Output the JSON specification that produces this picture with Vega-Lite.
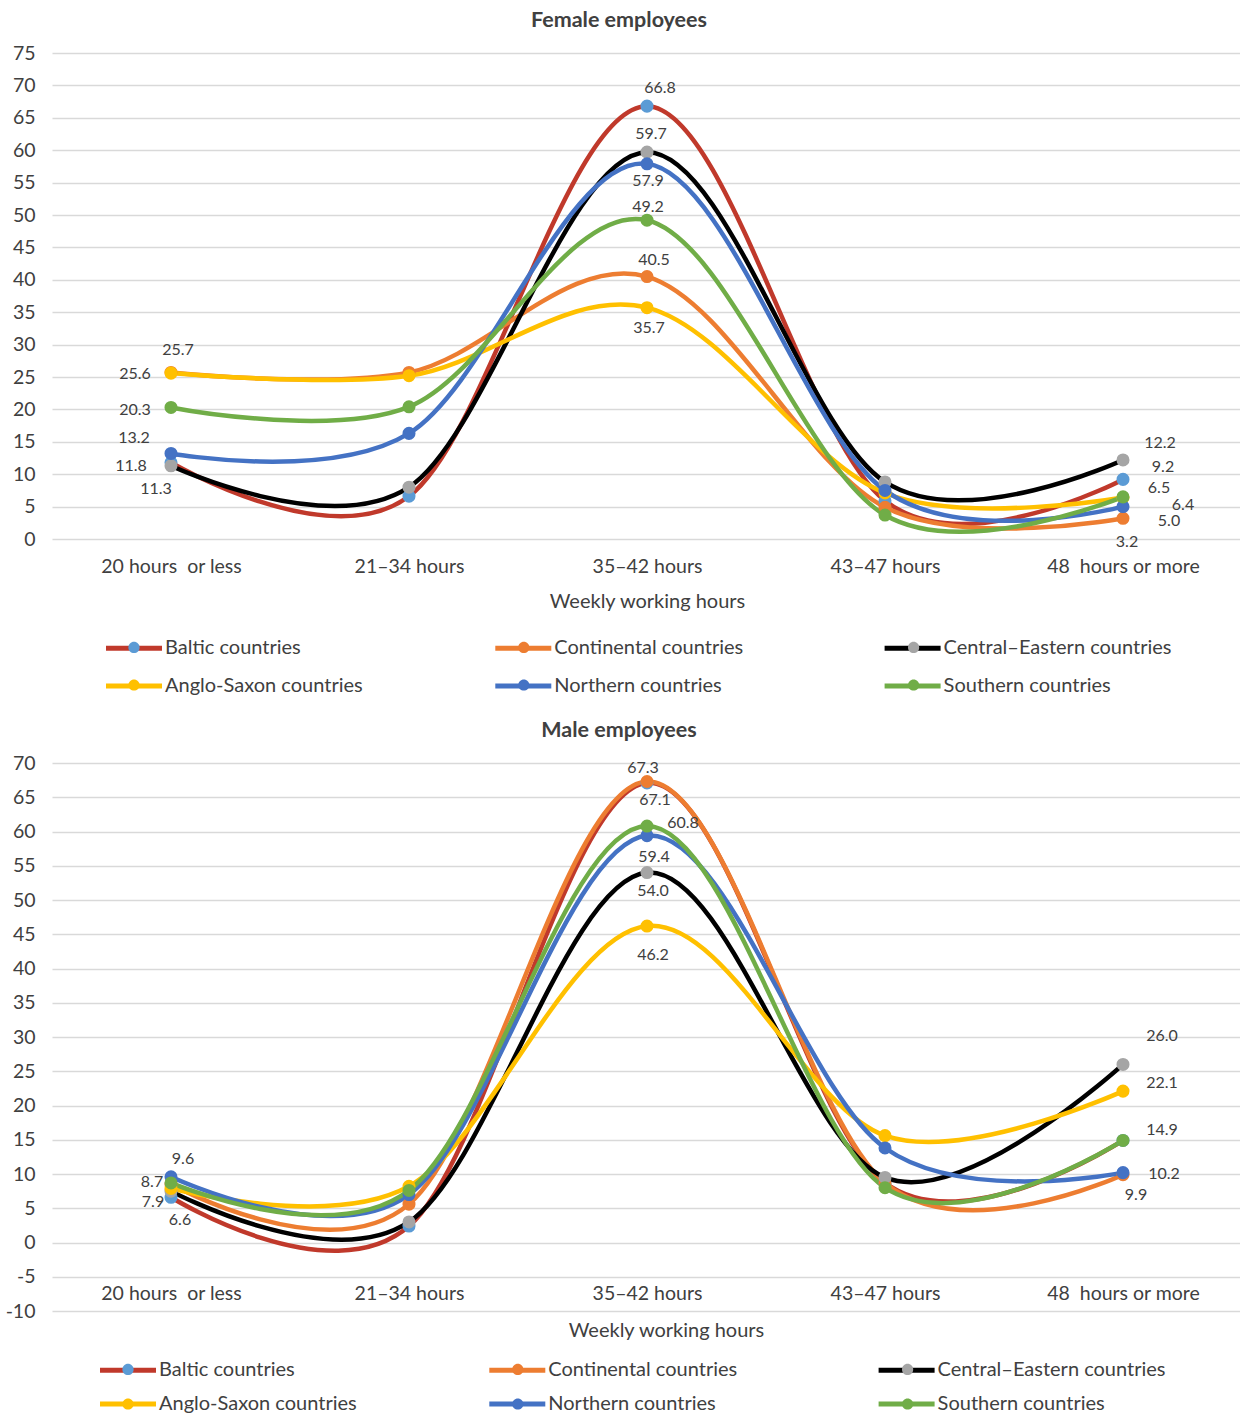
{
  "$schema": "https://vega.github.io/schema/vega-lite/v6.json",
  "background": "white",
  "padding": {"left": 5, "top": 10, "right": 0, "bottom": 0},
  "bounds": "flush",
  "spacing": 224,
  "config": {
    "font": "Lato",
    "view": {"stroke": null},
    "axis": {"labelColor": "#404040", "titleColor": "#404040", "labelFont": "Lato", "titleFont": "Lato"},
    "title": {"font": "Lato", "color": "#404040"},
    "text": {"font": "Lato", "fontSize": 16, "color": "#404040", "align": "center", "baseline": "middle"}
  },
  "datasets": {
    "female": [
      {"series": "Baltic countries", "hours": "20 hours\u00a0 or less", "pct": 11.8},
      {"series": "Baltic countries", "hours": "21–34 hours", "pct": 6.6},
      {"series": "Baltic countries", "hours": "35–42 hours", "pct": 66.8},
      {"series": "Baltic countries", "hours": "43–47 hours", "pct": 5.9},
      {"series": "Baltic countries", "hours": "48\u00a0 hours or more", "pct": 9.2},
      {"series": "Continental countries", "hours": "20 hours\u00a0 or less", "pct": 25.7},
      {"series": "Continental countries", "hours": "21–34 hours", "pct": 25.7},
      {"series": "Continental countries", "hours": "35–42 hours", "pct": 40.5},
      {"series": "Continental countries", "hours": "43–47 hours", "pct": 4.9},
      {"series": "Continental countries", "hours": "48\u00a0 hours or more", "pct": 3.2},
      {"series": "Central–Eastern countries", "hours": "20 hours\u00a0 or less", "pct": 11.3},
      {"series": "Central–Eastern countries", "hours": "21–34 hours", "pct": 8.0},
      {"series": "Central–Eastern countries", "hours": "35–42 hours", "pct": 59.7},
      {"series": "Central–Eastern countries", "hours": "43–47 hours", "pct": 8.8},
      {"series": "Central–Eastern countries", "hours": "48\u00a0 hours or more", "pct": 12.2},
      {"series": "Anglo-Saxon countries", "hours": "20 hours\u00a0 or less", "pct": 25.6},
      {"series": "Anglo-Saxon countries", "hours": "21–34 hours", "pct": 25.2},
      {"series": "Anglo-Saxon countries", "hours": "35–42 hours", "pct": 35.7},
      {"series": "Anglo-Saxon countries", "hours": "43–47 hours", "pct": 7.1},
      {"series": "Anglo-Saxon countries", "hours": "48\u00a0 hours or more", "pct": 6.4},
      {"series": "Northern countries", "hours": "20 hours\u00a0 or less", "pct": 13.2},
      {"series": "Northern countries", "hours": "21–34 hours", "pct": 16.3},
      {"series": "Northern countries", "hours": "35–42 hours", "pct": 57.9},
      {"series": "Northern countries", "hours": "43–47 hours", "pct": 7.5},
      {"series": "Northern countries", "hours": "48\u00a0 hours or more", "pct": 5.0},
      {"series": "Southern countries", "hours": "20 hours\u00a0 or less", "pct": 20.3},
      {"series": "Southern countries", "hours": "21–34 hours", "pct": 20.4},
      {"series": "Southern countries", "hours": "35–42 hours", "pct": 49.2},
      {"series": "Southern countries", "hours": "43–47 hours", "pct": 3.7},
      {"series": "Southern countries", "hours": "48\u00a0 hours or more", "pct": 6.5}
    ],
    "male": [
      {"series": "Baltic countries", "hours": "20 hours\u00a0 or less", "pct": 6.6},
      {"series": "Baltic countries", "hours": "21–34 hours", "pct": 2.4},
      {"series": "Baltic countries", "hours": "35–42 hours", "pct": 67.1},
      {"series": "Baltic countries", "hours": "43–47 hours", "pct": 8.7},
      {"series": "Baltic countries", "hours": "48\u00a0 hours or more", "pct": 14.9},
      {"series": "Continental countries", "hours": "20 hours\u00a0 or less", "pct": 8.5},
      {"series": "Continental countries", "hours": "21–34 hours", "pct": 5.6},
      {"series": "Continental countries", "hours": "35–42 hours", "pct": 67.3},
      {"series": "Continental countries", "hours": "43–47 hours", "pct": 8.7},
      {"series": "Continental countries", "hours": "48\u00a0 hours or more", "pct": 9.9},
      {"series": "Central–Eastern countries", "hours": "20 hours\u00a0 or less", "pct": 7.5},
      {"series": "Central–Eastern countries", "hours": "21–34 hours", "pct": 3.0},
      {"series": "Central–Eastern countries", "hours": "35–42 hours", "pct": 54.0},
      {"series": "Central–Eastern countries", "hours": "43–47 hours", "pct": 9.5},
      {"series": "Central–Eastern countries", "hours": "48\u00a0 hours or more", "pct": 26.0},
      {"series": "Anglo-Saxon countries", "hours": "20 hours\u00a0 or less", "pct": 7.9},
      {"series": "Anglo-Saxon countries", "hours": "21–34 hours", "pct": 8.2},
      {"series": "Anglo-Saxon countries", "hours": "35–42 hours", "pct": 46.2},
      {"series": "Anglo-Saxon countries", "hours": "43–47 hours", "pct": 15.6},
      {"series": "Anglo-Saxon countries", "hours": "48\u00a0 hours or more", "pct": 22.1},
      {"series": "Northern countries", "hours": "20 hours\u00a0 or less", "pct": 9.6},
      {"series": "Northern countries", "hours": "21–34 hours", "pct": 7.0},
      {"series": "Northern countries", "hours": "35–42 hours", "pct": 59.4},
      {"series": "Northern countries", "hours": "43–47 hours", "pct": 13.8},
      {"series": "Northern countries", "hours": "48\u00a0 hours or more", "pct": 10.2},
      {"series": "Southern countries", "hours": "20 hours\u00a0 or less", "pct": 8.7},
      {"series": "Southern countries", "hours": "21–34 hours", "pct": 7.6},
      {"series": "Southern countries", "hours": "35–42 hours", "pct": 60.8},
      {"series": "Southern countries", "hours": "43–47 hours", "pct": 8.0},
      {"series": "Southern countries", "hours": "48\u00a0 hours or more", "pct": 14.9}
    ]
  },
  "resolve": {
    "scale": {"y": "independent", "stroke": "independent", "fill": "independent"},
    "legend": {"stroke": "independent", "fill": "independent"}
  },
  "vconcat": [
    {
      "width": 1190,
      "height": 486,
      "title": {"text": "Female employees", "fontSize": 21.5, "fontWeight": "bold", "offset": 11.5, "dx": -28, "anchor": "middle"},
      "data": {"name": "female"},
      "encoding": {
        "x": {"field": "hours", "type": "nominal", "sort": null,
          "scale": {"type": "point", "padding": 0.5, "domain": ["20 hours\u00a0 or less", "21–34 hours", "35–42 hours", "43–47 hours", "48\u00a0 hours or more"]},
          "axis": {"title": "Weekly working hours", "labelAngle": 0, "domain": false, "ticks": false, "grid": false, "labelPadding": 27, "labelBaseline": "middle", "labelFontSize": 19.5, "titleFontSize": 20, "titleFontWeight": "normal", "titleBaseline": "middle", "titleY": 62}},
        "y": {"field": "pct", "type": "quantitative",
          "scale": {"domain": [0, 75], "nice": false, "zero": false},
          "axis": {"title": null, "values": [0, 5, 10, 15, 20, 25, 30, 35, 40, 45, 50, 55, 60, 65, 70, 75], "domain": false, "ticks": false, "grid": true, "gridColor": "#D9D9D9", "gridWidth": 1.3, "labelPadding": 17, "labelFontSize": 19.5, "labelExpr": "datum.value < 0 ? '-' + abs(datum.value) : '' + datum.value"}}
      },
      "layer": [
        {"mark": {"type": "line", "interpolate": "cardinal", "strokeWidth": 4.5},
         "encoding": {"stroke": {"field": "series", "type": "nominal",
           "scale": {"domain": ["Baltic countries", "Continental countries", "Central–Eastern countries", "Anglo-Saxon countries", "Northern countries", "Southern countries"], "range": ["#C0392B", "#ED7D31", "#000000", "#FFC000", "#4472C4", "#70AD47"]},
           "legend": {"orient": "none", "legendX": 65.5, "legendY": 578.5, "direction": "horizontal", "columns": 3, "title": null, "symbolType": "M-2,0L2,0", "symbolSize": 784, "symbolStrokeWidth": 5, "labelOffset": 14.5, "labelFontSize": 20, "labelColor": "#404040", "labelFont": "Lato", "columnPadding": 91.3, "rowPadding": 11, "gridAlign": "all", "padding": 0, "zindex": 1, "labelLimit": 400, "symbolOpacity": 1}}}},
        {"mark": {"type": "point", "filled": true, "size": 170, "opacity": 1, "strokeWidth": 0},
         "encoding": {"fill": {"field": "series", "type": "nominal",
           "sort": ["Baltic countries", "Continental countries", "Central–Eastern countries", "Anglo-Saxon countries", "Northern countries", "Southern countries"],
           "scale": {"range": ["#5B9BD5", "#ED7D31", "#A5A5A5", "#FFC000", "#4472C4", "#70AD47"]},
           "legend": {"orient": "none", "legendX": 65.5, "legendY": 577.5, "direction": "horizontal", "columns": 3, "title": null, "symbolType": "M-0.4,0A0.4,0.4,0,1,0,0.4,0A0.4,0.4,0,1,0,-0.4,0Z", "symbolSize": 784, "symbolStrokeWidth": 5, "symbolStrokeColor": "transparent", "labelOffset": 14.5, "labelFontSize": 20, "labelOpacity": 0, "labelFont": "Lato", "columnPadding": 113.8, "rowPadding": 5, "gridAlign": "all", "padding": 0, "zindex": 2, "labelLimit": 400, "symbolOpacity": 1}}}},
        {"transform": [{"filter": "datum.series==='Continental countries' && datum.hours==='20 hours\u00a0 or less'"}], "mark": {"type": "text", "dx": 7, "dy": -22}, "encoding": {"text": {"field": "pct", "type": "quantitative", "format": ".1f"}}},
        {"transform": [{"filter": "datum.series==='Anglo-Saxon countries' && datum.hours==='20 hours\u00a0 or less'"}], "mark": {"type": "text", "dx": -36, "dy": 1}, "encoding": {"text": {"field": "pct", "type": "quantitative", "format": ".1f"}}},
        {"transform": [{"filter": "datum.series==='Southern countries' && datum.hours==='20 hours\u00a0 or less'"}], "mark": {"type": "text", "dx": -36, "dy": 3}, "encoding": {"text": {"field": "pct", "type": "quantitative", "format": ".1f"}}},
        {"transform": [{"filter": "datum.series==='Northern countries' && datum.hours==='20 hours\u00a0 or less'"}], "mark": {"type": "text", "dx": -37, "dy": -15}, "encoding": {"text": {"field": "pct", "type": "quantitative", "format": ".1f"}}},
        {"transform": [{"filter": "datum.series==='Baltic countries' && datum.hours==='20 hours\u00a0 or less'"}], "mark": {"type": "text", "dx": -40, "dy": 3}, "encoding": {"text": {"field": "pct", "type": "quantitative", "format": ".1f"}}},
        {"transform": [{"filter": "datum.series==='Central–Eastern countries' && datum.hours==='20 hours\u00a0 or less'"}], "mark": {"type": "text", "dx": -15, "dy": 23}, "encoding": {"text": {"field": "pct", "type": "quantitative", "format": ".1f"}}},
        {"transform": [{"filter": "datum.series==='Baltic countries' && datum.hours==='35–42 hours'"}], "mark": {"type": "text", "dx": 13, "dy": -18}, "encoding": {"text": {"field": "pct", "type": "quantitative", "format": ".1f"}}},
        {"transform": [{"filter": "datum.series==='Central–Eastern countries' && datum.hours==='35–42 hours'"}], "mark": {"type": "text", "dx": 4, "dy": -18}, "encoding": {"text": {"field": "pct", "type": "quantitative", "format": ".1f"}}},
        {"transform": [{"filter": "datum.series==='Northern countries' && datum.hours==='35–42 hours'"}], "mark": {"type": "text", "dx": 1, "dy": 17}, "encoding": {"text": {"field": "pct", "type": "quantitative", "format": ".1f"}}},
        {"transform": [{"filter": "datum.series==='Southern countries' && datum.hours==='35–42 hours'"}], "mark": {"type": "text", "dx": 1, "dy": -13}, "encoding": {"text": {"field": "pct", "type": "quantitative", "format": ".1f"}}},
        {"transform": [{"filter": "datum.series==='Continental countries' && datum.hours==='35–42 hours'"}], "mark": {"type": "text", "dx": 7, "dy": -17}, "encoding": {"text": {"field": "pct", "type": "quantitative", "format": ".1f"}}},
        {"transform": [{"filter": "datum.series==='Anglo-Saxon countries' && datum.hours==='35–42 hours'"}], "mark": {"type": "text", "dx": 2, "dy": 20}, "encoding": {"text": {"field": "pct", "type": "quantitative", "format": ".1f"}}},
        {"transform": [{"filter": "datum.series==='Central–Eastern countries' && datum.hours==='48\u00a0 hours or more'"}], "mark": {"type": "text", "dx": 37, "dy": -17}, "encoding": {"text": {"field": "pct", "type": "quantitative", "format": ".1f"}}},
        {"transform": [{"filter": "datum.series==='Baltic countries' && datum.hours==='48\u00a0 hours or more'"}], "mark": {"type": "text", "dx": 40, "dy": -12}, "encoding": {"text": {"field": "pct", "type": "quantitative", "format": ".1f"}}},
        {"transform": [{"filter": "datum.series==='Southern countries' && datum.hours==='48\u00a0 hours or more'"}], "mark": {"type": "text", "dx": 36, "dy": -9}, "encoding": {"text": {"field": "pct", "type": "quantitative", "format": ".1f"}}},
        {"transform": [{"filter": "datum.series==='Anglo-Saxon countries' && datum.hours==='48\u00a0 hours or more'"}], "mark": {"type": "text", "dx": 60, "dy": 7}, "encoding": {"text": {"field": "pct", "type": "quantitative", "format": ".1f"}}},
        {"transform": [{"filter": "datum.series==='Northern countries' && datum.hours==='48\u00a0 hours or more'"}], "mark": {"type": "text", "dx": 46, "dy": 14}, "encoding": {"text": {"field": "pct", "type": "quantitative", "format": ".1f"}}},
        {"transform": [{"filter": "datum.series==='Continental countries' && datum.hours==='48\u00a0 hours or more'"}], "mark": {"type": "text", "dx": 4, "dy": 24}, "encoding": {"text": {"field": "pct", "type": "quantitative", "format": ".1f"}}}
      ]
    },
    {
      "width": 1190,
      "height": 548,
      "title": {"text": "Male employees", "fontSize": 21.5, "fontWeight": "bold", "offset": 11.5, "dx": -28, "anchor": "middle"},
      "data": {"name": "male"},
      "encoding": {
        "x": {"field": "hours", "type": "nominal", "sort": null,
          "scale": {"type": "point", "padding": 0.5, "domain": ["20 hours\u00a0 or less", "21–34 hours", "35–42 hours", "43–47 hours", "48\u00a0 hours or more"]},
          "axis": {"title": "Weekly working hours", "labelAngle": 0, "domain": false, "ticks": false, "grid": false, "labelPadding": -18, "labelBaseline": "middle", "labelFontSize": 19.5, "titleFontSize": 20, "titleFontWeight": "normal", "titleBaseline": "middle", "titleY": 19, "titleX": 614}},
        "y": {"field": "pct", "type": "quantitative",
          "scale": {"domain": [-10, 70], "nice": false, "zero": false},
          "axis": {"title": null, "values": [-10, -5, 0, 5, 10, 15, 20, 25, 30, 35, 40, 45, 50, 55, 60, 65, 70], "domain": false, "ticks": false, "grid": true, "gridColor": "#D9D9D9", "gridWidth": 1.3, "labelPadding": 17, "labelFontSize": 19.5, "labelExpr": "datum.value < 0 ? '-' + abs(datum.value) : '' + datum.value"}}
      },
      "layer": [
        {"mark": {"type": "line", "interpolate": "cardinal", "strokeWidth": 4.5},
         "encoding": {"stroke": {"field": "series", "type": "nominal",
           "scale": {"domain": ["Baltic countries", "Continental countries", "Central–Eastern countries", "Anglo-Saxon countries", "Northern countries", "Southern countries"], "range": ["#C0392B", "#ED7D31", "#000000", "#FFC000", "#4472C4", "#70AD47"]},
           "legend": {"orient": "none", "legendX": 59.5, "legendY": 590.5, "direction": "horizontal", "columns": 3, "title": null, "symbolType": "M-2,0L2,0", "symbolSize": 784, "symbolStrokeWidth": 5, "labelOffset": 14.5, "labelFontSize": 20, "labelColor": "#404040", "labelFont": "Lato", "columnPadding": 91.3, "rowPadding": 7, "gridAlign": "all", "padding": 0, "zindex": 1, "labelLimit": 400, "symbolOpacity": 1}}}},
        {"mark": {"type": "point", "filled": true, "size": 170, "opacity": 1, "strokeWidth": 0},
         "encoding": {"fill": {"field": "series", "type": "nominal",
           "sort": ["Baltic countries", "Continental countries", "Central–Eastern countries", "Anglo-Saxon countries", "Northern countries", "Southern countries"],
           "scale": {"range": ["#5B9BD5", "#ED7D31", "#A5A5A5", "#FFC000", "#4472C4", "#70AD47"]},
           "legend": {"orient": "none", "legendX": 59.5, "legendY": 589.5, "direction": "horizontal", "columns": 3, "title": null, "symbolType": "M-0.4,0A0.4,0.4,0,1,0,0.4,0A0.4,0.4,0,1,0,-0.4,0Z", "symbolSize": 784, "symbolStrokeWidth": 5, "symbolStrokeColor": "transparent", "labelOffset": 14.5, "labelFontSize": 20, "labelOpacity": 0, "labelFont": "Lato", "columnPadding": 113.8, "rowPadding": 2, "gridAlign": "all", "padding": 0, "zindex": 2, "labelLimit": 400, "symbolOpacity": 1}}}},
        {"transform": [{"filter": "datum.series==='Northern countries' && datum.hours==='20 hours\u00a0 or less'"}], "mark": {"type": "text", "dx": 12, "dy": -18}, "encoding": {"text": {"field": "pct", "type": "quantitative", "format": ".1f"}}},
        {"transform": [{"filter": "datum.series==='Southern countries' && datum.hours==='20 hours\u00a0 or less'"}], "mark": {"type": "text", "dx": -19, "dy": -1}, "encoding": {"text": {"field": "pct", "type": "quantitative", "format": ".1f"}}},
        {"transform": [{"filter": "datum.series==='Anglo-Saxon countries' && datum.hours==='20 hours\u00a0 or less'"}], "mark": {"type": "text", "dx": -18, "dy": 14}, "encoding": {"text": {"field": "pct", "type": "quantitative", "format": ".1f"}}},
        {"transform": [{"filter": "datum.series==='Baltic countries' && datum.hours==='20 hours\u00a0 or less'"}], "mark": {"type": "text", "dx": 9, "dy": 23}, "encoding": {"text": {"field": "pct", "type": "quantitative", "format": ".1f"}}},
        {"transform": [{"filter": "datum.series==='Continental countries' && datum.hours==='35–42 hours'"}], "mark": {"type": "text", "dx": -4, "dy": -13}, "encoding": {"text": {"field": "pct", "type": "quantitative", "format": ".1f"}}},
        {"transform": [{"filter": "datum.series==='Baltic countries' && datum.hours==='35–42 hours'"}], "mark": {"type": "text", "dx": 8, "dy": 17}, "encoding": {"text": {"field": "pct", "type": "quantitative", "format": ".1f"}}},
        {"transform": [{"filter": "datum.series==='Southern countries' && datum.hours==='35–42 hours'"}], "mark": {"type": "text", "dx": 36, "dy": -3}, "encoding": {"text": {"field": "pct", "type": "quantitative", "format": ".1f"}}},
        {"transform": [{"filter": "datum.series==='Northern countries' && datum.hours==='35–42 hours'"}], "mark": {"type": "text", "dx": 7, "dy": 21}, "encoding": {"text": {"field": "pct", "type": "quantitative", "format": ".1f"}}},
        {"transform": [{"filter": "datum.series==='Central–Eastern countries' && datum.hours==='35–42 hours'"}], "mark": {"type": "text", "dx": 6, "dy": 18}, "encoding": {"text": {"field": "pct", "type": "quantitative", "format": ".1f"}}},
        {"transform": [{"filter": "datum.series==='Anglo-Saxon countries' && datum.hours==='35–42 hours'"}], "mark": {"type": "text", "dx": 6, "dy": 29}, "encoding": {"text": {"field": "pct", "type": "quantitative", "format": ".1f"}}},
        {"transform": [{"filter": "datum.series==='Central–Eastern countries' && datum.hours==='48\u00a0 hours or more'"}], "mark": {"type": "text", "dx": 39, "dy": -28}, "encoding": {"text": {"field": "pct", "type": "quantitative", "format": ".1f"}}},
        {"transform": [{"filter": "datum.series==='Anglo-Saxon countries' && datum.hours==='48\u00a0 hours or more'"}], "mark": {"type": "text", "dx": 39, "dy": -8}, "encoding": {"text": {"field": "pct", "type": "quantitative", "format": ".1f"}}},
        {"transform": [{"filter": "datum.series==='Southern countries' && datum.hours==='48\u00a0 hours or more'"}], "mark": {"type": "text", "dx": 39, "dy": -10}, "encoding": {"text": {"field": "pct", "type": "quantitative", "format": ".1f"}}},
        {"transform": [{"filter": "datum.series==='Northern countries' && datum.hours==='48\u00a0 hours or more'"}], "mark": {"type": "text", "dx": 41, "dy": 1}, "encoding": {"text": {"field": "pct", "type": "quantitative", "format": ".1f"}}},
        {"transform": [{"filter": "datum.series==='Continental countries' && datum.hours==='48\u00a0 hours or more'"}], "mark": {"type": "text", "dx": 13, "dy": 20}, "encoding": {"text": {"field": "pct", "type": "quantitative", "format": ".1f"}}}
      ]
    }
  ]
}
